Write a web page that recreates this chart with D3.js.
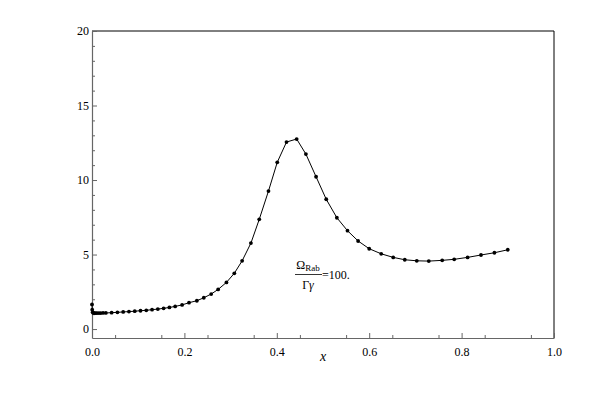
<!DOCTYPE html>
<html><head><meta charset="utf-8">
<script src="https://cdn.jsdelivr.net/npm/d3@7"></script>
<style>body{margin:0;background:#fff}svg{display:block}</style>
</head><body><svg id="c" width="600" height="400"></svg>
<script>
const xVals = [0, 0.0005, 0.0015, 0.003, 0.005, 0.008, 0.011, 0.015, 0.019, 0.024, 0.03, 0.0425, 0.055, 0.0675, 0.08, 0.0925, 0.105, 0.1175, 0.13, 0.1425, 0.155, 0.1675, 0.18, 0.195, 0.21, 0.227, 0.242, 0.258, 0.273, 0.291, 0.308, 0.325, 0.344, 0.362, 0.382, 0.401, 0.421, 0.443, 0.463, 0.485, 0.507, 0.53, 0.553, 0.576, 0.6, 0.626, 0.652, 0.677, 0.703, 0.729, 0.758, 0.784, 0.813, 0.842, 0.871, 0.9];
const yVals = [1.65, 1.3, 1.12, 1.08, 1.07, 1.07, 1.07, 1.07, 1.07, 1.08, 1.08, 1.1, 1.12, 1.15, 1.17, 1.2, 1.23, 1.26, 1.3, 1.34, 1.39, 1.45, 1.52, 1.62, 1.77, 1.9, 2.1, 2.35, 2.66, 3.13, 3.74, 4.58, 5.77, 7.36, 9.26, 11.19, 12.55, 12.75, 11.74, 10.22, 8.71, 7.47, 6.6, 5.91, 5.39, 5.05, 4.81, 4.65, 4.58, 4.56, 4.61, 4.68, 4.81, 4.97, 5.12, 5.32];
const xTicks = [0, 0.2, 0.4, 0.6, 0.8, 1.0];
const yTicks = [0, 5, 10, 15, 20];
const xLabel = "x";

const FONT = '"Liberation Serif", "Times New Roman", "DejaVu Serif", serif';
const svg = d3.select("#c");
const L = 92, R = 554, T = 31, B = 338;
const x = d3.scaleLinear().domain([0, 1]).range([L, R]);
const y = d3.scaleLinear().domain([-0.6, 20]).range([B, T]);
const axisCol = "#666";

// frame top/right
svg.append("line").attr("x1", L).attr("x2", R).attr("y1", T).attr("y2", T).attr("stroke", "#000");
svg.append("line").attr("x1", R).attr("x2", R).attr("y1", T).attr("y2", B).attr("stroke", "#000");

// bottom axis
const xAxis = d3.axisBottom(x).tickValues(xTicks).tickFormat(d3.format(".1f")).tickSizeInner(-5).tickSizeOuter(0).tickPadding(9);
const gx = svg.append("g").attr("transform", `translate(0,${B})`).call(xAxis).attr("font-family", null);
gx.select(".domain").attr("stroke", axisCol).attr("stroke-width", 1.2);
gx.selectAll(".tick line").attr("stroke", axisCol);
gx.selectAll("text").attr("fill", "#000").style("font-size", "12px").style("font-family", FONT);
const gxm = svg.append("g").attr("transform", `translate(0,${B})`).call(d3.axisBottom(x).tickValues(d3.range(0.05, 1, 0.1)).tickSizeInner(-3).tickSizeOuter(0).tickFormat(""));
gxm.select(".domain").remove();
gxm.selectAll(".tick line").attr("stroke", axisCol);

// left axis
const yAxis = d3.axisLeft(y).tickValues(yTicks).tickFormat(d3.format("d")).tickSizeInner(-5).tickSizeOuter(0).tickPadding(3);
const gy = svg.append("g").attr("transform", `translate(${L},0)`).call(yAxis).attr("font-family", null);
gy.select(".domain").attr("stroke", axisCol).attr("stroke-width", 1.2);
gy.selectAll(".tick line").attr("stroke", axisCol);
gy.selectAll("text").attr("fill", "#000").style("font-size", "12px").style("font-family", FONT);
const gym = svg.append("g").attr("transform", `translate(${L},0)`).call(d3.axisLeft(y).tickValues(d3.range(0, 21, 1).filter(v => v % 5 !== 0)).tickSizeInner(-3).tickSizeOuter(0).tickFormat(""));
gym.select(".domain").remove();
gym.selectAll(".tick line").attr("stroke", axisCol);

// data
const data = xVals.map((v, i) => [v, yVals[i]]);
svg.append("path").datum(data)
  .attr("fill", "none").attr("stroke", "#000").attr("stroke-width", 1)
  .attr("d", d3.line().x(d => x(d[0])).y(d => y(d[1])));
svg.append("g").selectAll("circle").data(data).join("circle")
  .attr("cx", d => x(d[0])).attr("cy", d => y(d[1])).attr("r", 1.9).attr("fill", "#000");

// axis label
svg.append("text").attr("x", (L + R) / 2).attr("y", 361).attr("text-anchor", "middle")
  .style("font-family", FONT).style("font-size", "14px").style("font-style", "italic").text(xLabel);

// annotation
const ann = svg.append("g").style("font-family", FONT);
const num = ann.append("text").attr("x", 308).attr("y", 269).attr("text-anchor", "middle").style("font-size", "12px");
num.append("tspan").text("Ω");
num.append("tspan").attr("dy", 2).style("font-size", "9px").text("Rab");
ann.append("line").attr("x1", 295).attr("x2", 322).attr("y1", 274.5).attr("y2", 274.5).attr("stroke", "#000").attr("stroke-width", 0.8);
const den = ann.append("text").attr("x", 308).attr("y", 289).attr("text-anchor", "middle").style("font-size", "12px");
den.append("tspan").text("Γ");
den.append("tspan").style("font-style", "italic").text("γ");
ann.append("text").attr("x", 322).attr("y", 279).style("font-size", "12px").text("=100.");
</script></body></html>
